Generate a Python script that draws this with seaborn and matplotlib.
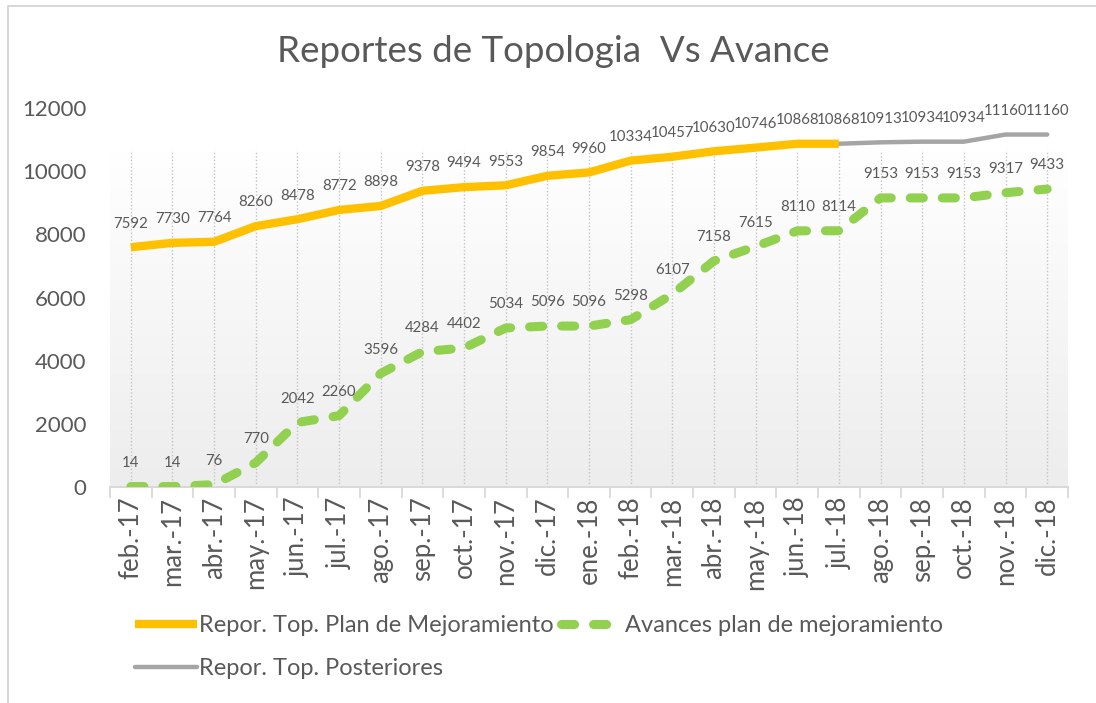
import numpy as np
import pandas as pd
import matplotlib
matplotlib.use("Agg")
import matplotlib.pyplot as plt
import seaborn as sns
from matplotlib.patches import Rectangle
from matplotlib.colors import LinearSegmentedColormap

categories = ["feb.-17", "mar.-17", "abr.-17", "may.-17", "jun.-17", "jul.-17", "ago.-17",
              "sep.-17", "oct.-17", "nov.-17", "dic.-17", "ene.-18", "feb.-18", "mar.-18",
              "abr.-18", "may.-18", "jun.-18", "jul.-18", "ago.-18", "sep.-18", "oct.-18",
              "nov.-18", "dic.-18"]
plan = [7592, 7730, 7764, 8260, 8478, 8772, 8898, 9378, 9494, 9553, 9854, 9960, 10334,
        10457, 10630, 10746, 10868, 10868]
posteriores_cats = ["jul.-18", "ago.-18", "sep.-18", "oct.-18", "nov.-18", "dic.-18"]
posteriores = [10868, 10913, 10934, 10934, 11160, 11160]
avances = [14, 14, 76, 770, 2042, 2260, 3596, 4284, 4402, 5034, 5096, 5096, 5298, 6107,
           7158, 7615, 8110, 8114, 9153, 9153, 9153, 9317, 9433]
yticks = [0, 2000, 4000, 6000, 8000, 10000, 12000]

sns.set_theme(style="white")
plt.rcParams['font.family'] = ['Lato', 'DejaVu Sans']
TXT = "#595959"

idx = {c: i for i, c in enumerate(categories)}
df_plan = pd.DataFrame({"x": [idx[c] for c in categories[:len(plan)]], "y": plan})
df_post = pd.DataFrame({"x": [idx[c] for c in posteriores_cats], "y": posteriores})
df_av = pd.DataFrame({"x": [idx[c] for c in categories], "y": avances})

fig = plt.figure(figsize=(10.96, 7.03), dpi=100)
ax = fig.add_axes([110/1096, 1-487/703, (1068-110)/1096, (487-108)/703])
n = len(categories)
ax.set_xlim(-0.5, n - 0.5)
ax.set_ylim(0, 12000)

# gradient plot-area background
top_area = 10670
grad = np.linspace(0, 1, 256).reshape(-1, 1)
cmap = LinearSegmentedColormap.from_list("g", ["#ededed", "#ffffff"])
ax.imshow(grad, aspect="auto", cmap=cmap, origin="lower",
          extent=[-0.5, n - 0.5, 0, top_area], zorder=0)
ax.vlines(range(n), 0, top_area, colors="#c4c4c4", linestyles=(0, (1, 1.5)), lw=1.0, zorder=1)

sns.lineplot(data=df_plan, x="x", y="y", ax=ax, color="#FFC000", lw=6, zorder=4,
             label="Repor. Top. Plan de Mejoramiento")
sns.lineplot(data=df_post, x="x", y="y", ax=ax, color="#A5A5A5", lw=3.2, zorder=3,
             label="Repor. Top. Posteriores")
sns.lineplot(data=df_av, x="x", y="y", ax=ax, color="#92D050", lw=6.5, zorder=4,
             label="Avances plan de mejoramiento")
ax.lines[-1].set_dashes([1.45, 2.1])
ax.lines[-1].set_dash_capstyle("round")
ax.lines[0].set_solid_capstyle("butt")

def labels(df):
    for x, y in zip(df["x"], df["y"]):
        ax.annotate(f"{y}", (x, y), xytext=(0, 12), textcoords="offset points",
                    ha="center", va="bottom", fontsize=10.8, color=TXT, zorder=6)

labels(df_plan.iloc[:-1])
labels(df_post)
labels(df_av)

ax.set_xticks(range(n))
ax.set_xticklabels(categories, rotation=90, fontsize=18.5, color=TXT)
ax.set_xticks(np.arange(-0.5, n, 1), minor=True)
ax.tick_params(axis="x", which="major", length=0, pad=7)
ax.tick_params(axis="x", which="minor", length=8, width=1.3, color="#d9d9d9", bottom=True)
ax.set_yticks(yticks)
ax.set_yticklabels([str(t) for t in yticks], fontsize=16, color=TXT)
ax.tick_params(axis="y", length=0, pad=17)
ax.set_xlabel("")
ax.set_ylabel("")
for s in ["top", "right", "left"]:
    ax.spines[s].set_visible(False)
ax.spines["bottom"].set_color("#d9d9d9")
ax.spines["bottom"].set_linewidth(1.5)
ax.grid(False)

fig.text(0.505, 1-52/703, "Reportes de Topologia  Vs Avance", ha="center", va="center",
         fontsize=26.5, color=TXT)

h, l = ax.get_legend_handles_labels()
ax.get_legend().remove()
leg = fig.legend(h, l, ncol=2,
                 loc="center", bbox_to_anchor=(0.492, 1-647/703), frameon=False,
                 fontsize=17, handlelength=2.6, handletextpad=0.12, columnspacing=0.3,
                 labelspacing=0.95, borderpad=0)
for t in leg.get_texts():
    t.set_color(TXT)

fig.patches.append(Rectangle((8/1096, -0.1), 1.2, 1 - 6/703 + 0.1, transform=fig.transFigure,
                             fill=False, edgecolor="#d0d0d0", lw=1.2))

fig.savefig("out.png", dpi=100)
